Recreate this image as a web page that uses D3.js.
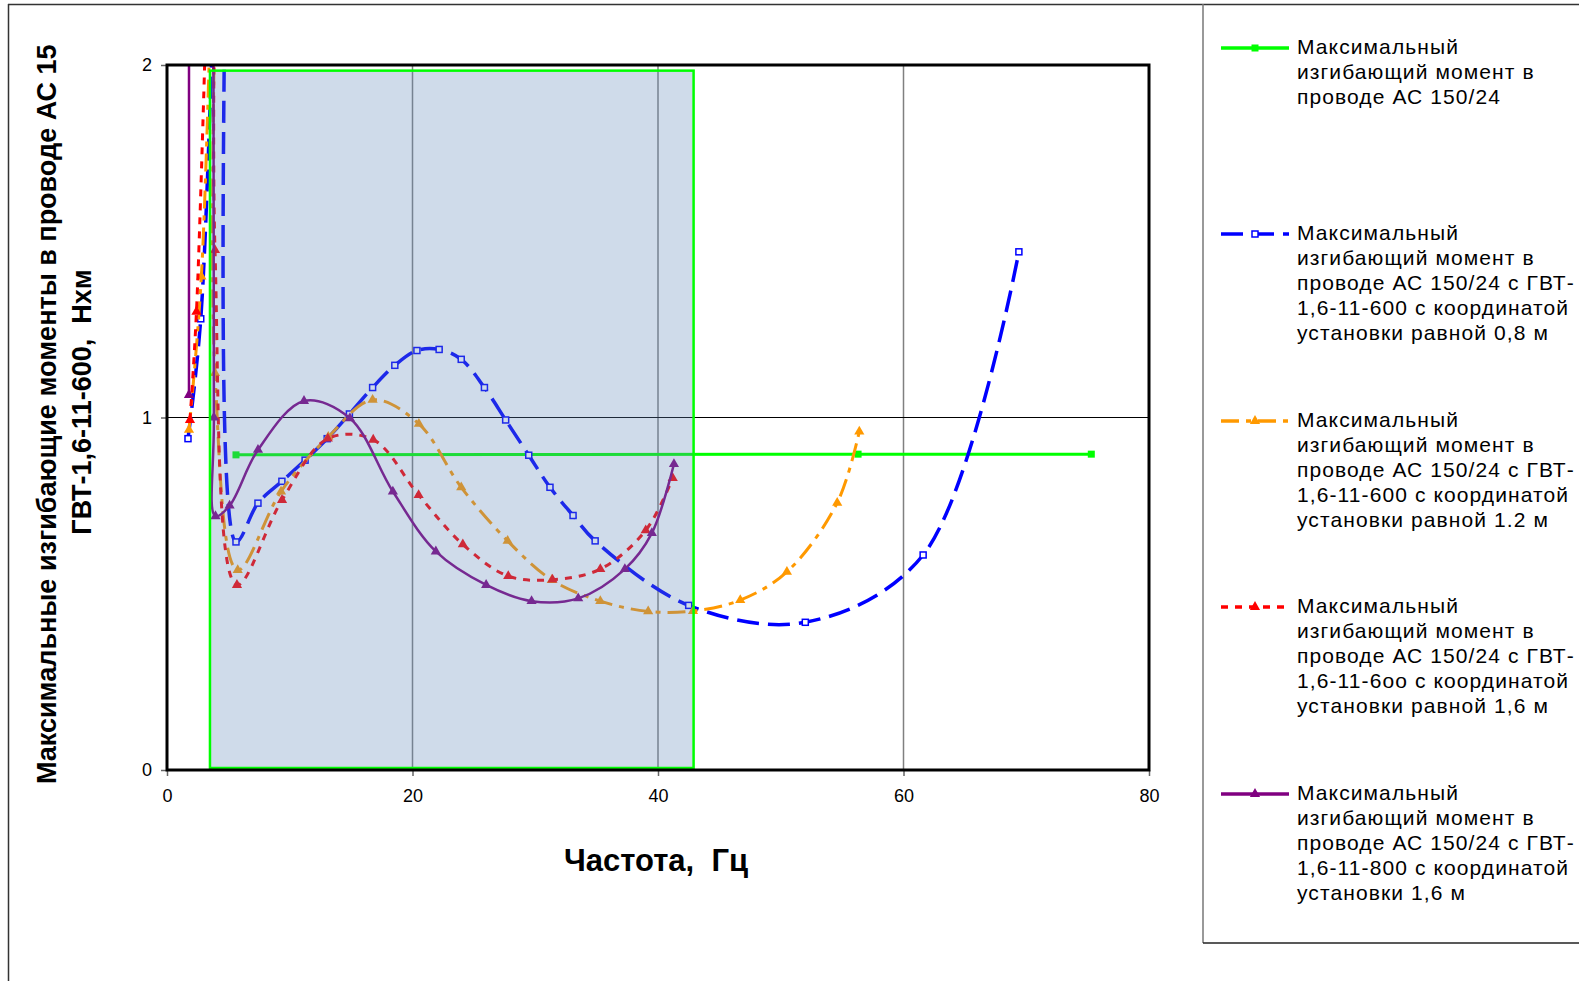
<!DOCTYPE html>
<html>
<head>
<meta charset="utf-8">
<script src="https://cdn.jsdelivr.net/npm/d3@7"></script>
<style>
  body { margin: 0; background: #fff; }
  text { font-family: "Liberation Sans", Arial, sans-serif; white-space: pre; }
</style>
</head>
<body>
<svg id="chart" width="1579" height="981"></svg>
<script>
// --- data (frequency, Hz ; max bending moment, N*m) ---
const xTicks = [0, 20, 40, 60, 80];
const yTicks = [0, 1, 2];
const xGrid = [20, 40, 60];
const yGrid = [1];

// highlighted frequency band
const bandX = [3.5, 42.9];
const bandTop = 1.984;

const greenPts = [[5.62, 0.894], [56.3, 0.896], [75.3, 0.896]];

// values above 2 are the resonance peaks, cut off by the plot area
const bluePts = [[1.71, 0.94], [2.75, 1.28], [4.8, 3.0], [5.62, 0.647], [7.41, 0.757], [9.36, 0.819],
  [11.25, 0.879], [13.05, 0.94], [14.86, 1.01], [16.75, 1.085], [18.56, 1.148], [20.36, 1.19],
  [22.17, 1.193], [23.97, 1.165], [25.86, 1.085], [27.59, 0.993], [29.47, 0.893], [31.2, 0.802],
  [33.08, 0.722], [34.88, 0.65], [42.5, 0.467], [52.0, 0.419], [61.6, 0.61], [69.4, 1.47]];

const orangePts = [[1.79, 0.965], [2.8, 1.4], [4.3, 3.0], [3.91, 1.126], [5.76, 0.567], [9.29, 0.79],
  [13.14, 0.945], [16.75, 1.05], [20.52, 0.982], [23.97, 0.802], [27.75, 0.65], [31.35, 0.539],
  [35.3, 0.479], [39.2, 0.45], [42.85, 0.451], [46.7, 0.482], [50.5, 0.562], [54.6, 0.758], [56.4, 0.96]];

const redPts = [[1.87, 0.993], [2.4, 1.3], [4.2, 3.2], [3.91, 1.475], [5.7, 0.525], [9.37, 0.766],
  [13.1, 0.94], [16.8, 0.937], [20.5, 0.78], [24.1, 0.64], [27.8, 0.55], [31.4, 0.54],
  [35.3, 0.57], [39.0, 0.68], [41.2, 0.828]];

const purplePts = [[1.79, 1.064], [1.8, 4.0], [1.85, 8.0], [3.7, 8.0], [3.75, 4.0], [3.82, 1.0],
  [3.95, 0.72], [5.1, 0.75], [7.41, 0.908], [11.16, 1.047], [14.9, 0.998], [18.4, 0.79],
  [21.9, 0.62], [26.0, 0.525], [29.7, 0.479], [33.5, 0.487], [37.3, 0.57], [39.5, 0.672], [41.3, 0.868]];

const legendLabels = [
  ["Максимальный", "изгибающий момент в", "проводе АС 150/24"],
  ["Максимальный", "изгибающий момент в", "проводе АС 150/24 с ГВТ-", "1,6-11-600 с координатой", "установки равной 0,8 м"],
  ["Максимальный", "изгибающий момент в", "проводе АС 150/24 с ГВТ-", "1,6-11-600 с координатой", "установки равной 1.2 м"],
  ["Максимальный", "изгибающий момент в", "проводе АС 150/24 с ГВТ-", "1,6-11-6оо с координатой", "установки равной 1,6 м"],
  ["Максимальный", "изгибающий момент в", "проводе АС 150/24 с ГВТ-", "1,6-11-800 с координатой", "установки 1,6 м"]
];

const series = [
  {pts: greenPts, color: "#00ff00", width: 3, dash: null, marker: "sqFill"},
  {pts: bluePts, color: "#0000ff", width: 3.5, dash: "22,9", marker: "sqOpen"},
  {pts: orangePts, color: "#ff9900", width: 3, dash: "18,7,5,7", marker: "tri"},
  {pts: redPts, color: "#ff0000", width: 3, dash: "7,7", marker: "tri"},
  {pts: purplePts, color: "#800080", width: 2.5, dash: null, marker: "tri"}
];

const svg = d3.select("#chart");

const x = d3.scaleLinear().domain([0, 80]).range([167, 1149]);
const y = d3.scaleLinear().domain([0, 2]).range([770, 65]);

// outer frame + legend box
svg.append("line").attr("x1", 8.5).attr("y1", 4).attr("x2", 8.5).attr("y2", 981)
  .attr("stroke", "#333").attr("stroke-width", 1.5);
svg.append("line").attr("x1", 8).attr("y1", 4.5).attr("x2", 1579).attr("y2", 4.5)
  .attr("stroke", "#333").attr("stroke-width", 1.5);
svg.append("line").attr("x1", 1203).attr("y1", 4).attr("x2", 1203).attr("y2", 943)
  .attr("stroke", "#777").attr("stroke-width", 1.5);
svg.append("line").attr("x1", 1203).attr("y1", 943).attr("x2", 1579).attr("y2", 943)
  .attr("stroke", "#222").attr("stroke-width", 1.5);

svg.append("clipPath").attr("id", "plotClip").append("rect")
  .attr("x", x(0)).attr("y", y(2)).attr("width", x(80) - x(0)).attr("height", y(0) - y(2));

// grid
svg.selectAll(".xgrid").data(xGrid).enter().append("line")
  .attr("x1", d => x(d)).attr("x2", d => x(d)).attr("y1", y(0)).attr("y2", y(2))
  .attr("stroke", "#808080").attr("stroke-width", 1.5);
svg.selectAll(".ygrid").data(yGrid).enter().append("line")
  .attr("x1", x(0)).attr("x2", x(80)).attr("y1", d => y(d)).attr("y2", d => y(d))
  .attr("stroke", "#000").attr("stroke-width", 1);

const line = d3.line().x(d => x(d[0])).y(d => y(d[1])).curve(d3.curveCatmullRom.alpha(0.5));

function drawMarker(g, type, color, cx, cy) {
  if (type === "tri") {
    g.append("path").attr("d", d3.symbol().type(d3.symbolTriangle).size(45)())
      .attr("transform", `translate(${cx},${cy})`).attr("fill", color);
  } else if (type === "sqOpen") {
    g.append("rect").attr("x", cx - 3).attr("y", cy - 3).attr("width", 6).attr("height", 6)
      .attr("fill", "#fff").attr("stroke", color).attr("stroke-width", 1.5);
  } else {
    g.append("rect").attr("x", cx - 3.5).attr("y", cy - 3.5).attr("width", 7).attr("height", 7)
      .attr("fill", color);
  }
}

const plot = svg.append("g").attr("clip-path", "url(#plotClip)");
series.forEach(s => {
  plot.append("path").attr("d", line(s.pts)).attr("fill", "none")
    .attr("stroke", s.color).attr("stroke-width", s.width)
    .attr("stroke-dasharray", s.dash).attr("stroke-linejoin", "round");
  s.pts.forEach(p => drawMarker(plot, s.marker, s.color, x(p[0]), y(p[1])));
});

// translucent band over the lines
svg.append("rect")
  .attr("x", x(bandX[0])).attr("y", y(bandTop))
  .attr("width", x(bandX[1]) - x(bandX[0])).attr("height", y(0) - y(bandTop) - 2)
  .attr("fill", "rgb(95,135,185)").attr("fill-opacity", 0.3)
  .attr("stroke", "#00ff00").attr("stroke-width", 2.5);

// axes
const yAxis = svg.append("g").attr("transform", `translate(${x(0)},0)`)
  .call(d3.axisLeft(y).tickValues(yTicks).tickSize(6).tickPadding(9).tickFormat(d3.format("d")));
const xAxis = svg.append("g").attr("transform", `translate(0,${y(0)})`)
  .call(d3.axisBottom(x).tickValues(xTicks).tickSize(6).tickPadding(13));
[xAxis, yAxis].forEach(a => {
  a.select(".domain").remove();
  a.selectAll("line").attr("stroke", "#666").attr("stroke-width", 1.5);
  a.selectAll("text").attr("font-size", 18).attr("fill", "#000")
    .attr("font-family", "'Liberation Sans', Arial, sans-serif");
});

// plot border
svg.append("rect").attr("x", x(0)).attr("y", y(2))
  .attr("width", x(80) - x(0)).attr("height", y(0) - y(2))
  .attr("fill", "none").attr("stroke", "#000").attr("stroke-width", 3);

// axis titles
svg.append("text").attr("x", 656).attr("y", 871).attr("text-anchor", "middle")
  .attr("font-size", 31).attr("font-weight", "bold").text("Частота,  Гц");

// first line of the y title runs past the chart top in the original, only this much shows
svg.append("text").attr("transform", "translate(56,784) rotate(-90)")
  .attr("font-size", 27).attr("font-weight", "bold")
  .text("Максимальные изгибающие моменты в проводе АС 15");
svg.append("text").attr("transform", "translate(91,402) rotate(-90)")
  .attr("text-anchor", "middle").attr("font-size", 27).attr("font-weight", "bold")
  .text("ГВТ-1,6-11-600,  Нхм");

// legend
const legendTop = [54, 240, 427, 613, 800];
series.forEach((s, i) => {
  const g = svg.append("g");
  const ly = legendTop[i] - 6;
  g.append("line").attr("x1", 1221).attr("x2", 1289).attr("y1", ly).attr("y2", ly)
    .attr("stroke", s.color).attr("stroke-width", 3.5).attr("stroke-dasharray", s.dash);
  drawMarker(g, s.marker, s.color, 1255, ly);
  legendLabels[i].forEach((t, j) => {
    g.append("text").attr("x", 1297).attr("y", legendTop[i] + j * 25)
      .attr("font-size", 21).attr("letter-spacing", 1.1).text(t);
  });
});
</script>
</body>
</html>
